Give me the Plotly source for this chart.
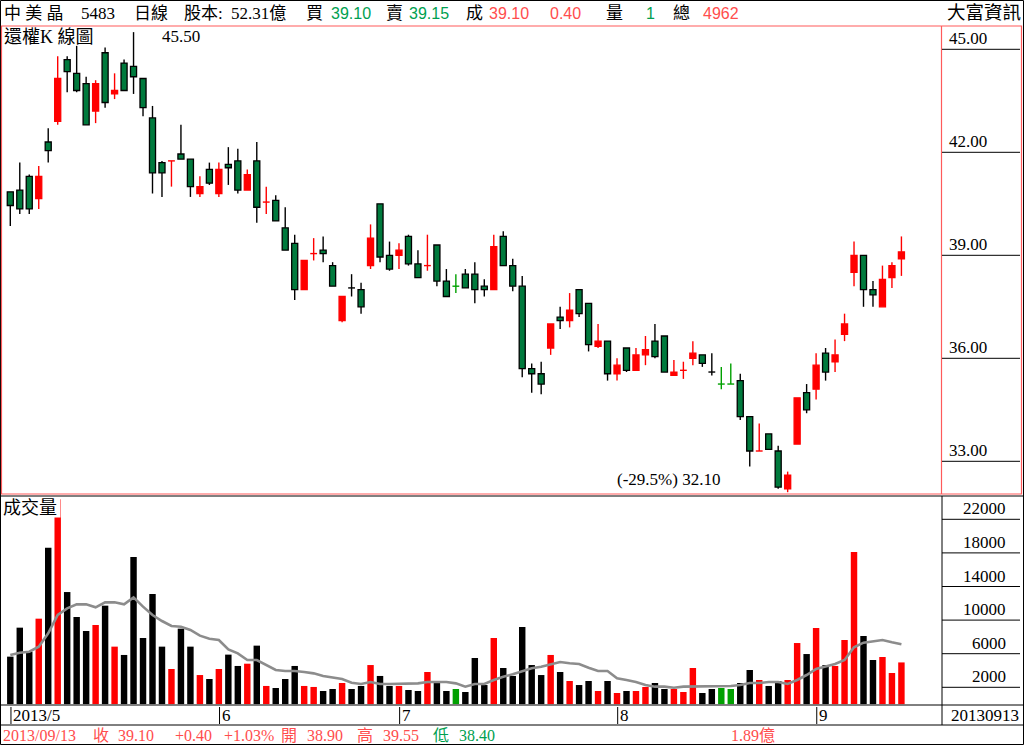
import plotly.graph_objects as go

W, H = 1024, 745

# ---------------- data ----------------
month_labels = ["2013/5", "6", "7", "8", "9"]
month_start_idx = [0, 22, 41, 64, 85]
last_date = "20130913"

open_ = [40.85, 40.90, 41.30, 40.65, 42.30, 42.90, 44.70, 44.30, 44.00, 43.20,
         44.90, 43.70, 44.60, 44.50, 44.15, 43.00, 41.70, 41.75, 41.95, 41.80,
         40.80, 41.50, 40.80, 41.65, 41.75, 40.90, 41.75, 40.55, 40.60, 39.80,
         39.35, 38.00, 39.05, 39.15, 38.70, 37.10, 38.05, 38.00, 38.70, 40.50,
         39.00, 39.00, 39.55, 38.75, 38.70, 39.30, 38.25, 38.10, 38.45, 38.45,
         38.10, 38.00, 39.55, 38.70, 38.10, 35.70, 35.55, 36.30, 37.20, 37.10,
         38.00, 37.60, 36.35, 36.50, 35.55, 36.30, 35.65, 36.10, 36.50, 36.65,
         35.50, 35.65, 36.00, 36.10, 35.60, 35.25, 35.25, 35.35, 34.30, 33.30,
         33.80, 33.30, 32.20, 33.50, 35.00, 35.10, 36.15, 35.90, 36.70, 38.50,
         39.00, 38.00, 37.50, 38.35, 38.90]
high = [40.85, 41.70, 41.35, 41.60, 42.70, 44.80, 44.80, 45.10, 44.20, 44.10,
        45.05, 44.30, 44.70, 45.50, 44.15, 43.35, 41.75, 41.75, 42.80, 41.80,
        41.30, 41.70, 41.70, 42.15, 42.10, 41.50, 42.30, 41.00, 40.75, 40.40,
        39.60, 38.85, 39.50, 39.55, 38.80, 37.80, 38.45, 38.20, 39.90, 40.50,
        39.40, 39.35, 39.60, 39.15, 39.60, 39.30, 38.60, 38.45, 38.60, 38.80,
        38.30, 39.60, 39.70, 38.90, 38.40, 35.85, 35.90, 37.00, 37.50, 37.90,
        38.00, 37.60, 37.00, 36.50, 36.00, 36.30, 36.30, 36.65, 37.00, 36.65,
        35.95, 35.90, 36.50, 36.10, 36.15, 35.75, 35.85, 35.55, 34.30, 34.10,
        33.80, 33.45, 32.70, 34.85, 35.25, 36.15, 36.30, 36.55, 37.30, 39.40,
        39.00, 38.25, 38.70, 38.80, 39.55]
low = [39.85, 40.20, 40.20, 40.35, 41.70, 42.80, 43.75, 43.75, 42.80, 42.85,
       43.30, 43.55, 43.80, 43.70, 43.05, 40.80, 40.70, 41.00, 41.80, 40.70,
       40.70, 41.05, 40.70, 41.05, 40.80, 40.90, 39.95, 40.20, 40.00, 39.15,
       37.70, 38.00, 38.85, 38.80, 38.10, 37.05, 37.80, 37.30, 38.60, 38.80,
       38.55, 38.60, 38.70, 38.35, 38.55, 38.10, 37.80, 37.90, 38.05, 37.60,
       37.80, 38.00, 38.70, 37.95, 35.45, 35.00, 34.95, 36.10, 36.85, 36.90,
       37.20, 36.20, 36.30, 35.35, 35.35, 35.60, 35.65, 35.80, 36.00, 35.60,
       35.50, 35.40, 35.80, 35.75, 35.50, 35.10, 35.25, 34.20, 32.85, 33.30,
       33.35, 32.20, 32.10, 33.50, 34.40, 34.80, 35.35, 35.60, 36.50, 38.10,
       37.50, 37.50, 37.50, 38.05, 38.40]
close = [40.45, 40.35, 40.35, 41.30, 42.05, 44.15, 44.35, 43.80, 42.80, 44.00,
         43.45, 43.80, 43.80, 44.20, 43.30, 41.40, 41.40, 41.75, 41.80, 41.00,
         41.00, 41.10, 41.50, 41.55, 40.90, 41.35, 40.40, 40.55, 40.00, 39.15,
         38.00, 38.85, 39.05, 39.05, 38.10, 37.80, 38.05, 37.50, 39.50, 38.95,
         38.60, 39.15, 38.75, 38.35, 38.70, 38.25, 37.80, 38.10, 38.05, 38.00,
         38.00, 39.25, 38.70, 38.10, 35.70, 35.55, 35.25, 37.00, 37.10, 37.40,
         37.30, 36.40, 36.50, 35.55, 35.80, 35.65, 36.10, 36.25, 36.05, 35.60,
         35.60, 35.65, 36.15, 35.85, 35.60, 35.25, 35.25, 34.30, 33.30, 33.30,
         33.35, 32.25, 32.60, 34.85, 34.50, 35.80, 35.60, 36.10, 37.00, 39.00,
         38.00, 37.85, 38.30, 38.70, 39.10]
volume = [5650, 9100, 6240, 10170, 18620, 24400, 13340, 10370, 8700, 9420,
          11720, 6840, 5850, 17510, 7870, 13110, 6840, 4180, 8980, 6840,
          3460, 2990, 4180, 5890, 4540, 4810, 6960, 2160, 1920, 2990,
          4540, 2160, 2040, 1560, 1800, 2510, 1800, 2160, 4650, 3350,
          2160, 2160, 1680, 1560, 3820, 2510, 1560, 1800, 1440, 5490,
          2270, 7870, 4300, 3350, 9180, 4650, 3460, 5850, 3820, 2750,
          2270, 2750, 1560, 2750, 1320, 1560, 1560, 2040, 2510, 1800,
          1800, 1440, 4300, 1320, 1800, 1920, 1800, 2510, 4060, 2870,
          2160, 2750, 2870, 7270, 5960, 9060, 4650, 4540, 7630, 18110,
          8110, 5250, 5610, 3700, 4962]
volume_ma10 = [5845, 6123, 6242, 6837, 8424, 10607, 11400, 11876, 11876, 11519,
               12114, 12114, 11876, 12710, 11599, 10607, 9892, 9297, 9218, 8821,
               8146, 7789, 7630, 6519, 6043, 5250, 5250, 4654, 4059, 3940,
               3940, 3821, 3662, 3345, 3147, 2988, 2551, 2393, 2631, 2393,
               2393, 2393, 2393, 2472, 2631, 2631, 2631, 2472, 2075, 2393,
               2393, 2869, 3266, 3543, 3940, 4258, 4456, 4773, 5012, 4853,
               4773, 4337, 3940, 3940, 3067, 2869, 2631, 2274, 2075, 2075,
               1956, 2075, 2075, 2075, 2075, 2155, 2155, 2274, 2512, 2512,
               2631, 2631, 2393, 2869, 3464, 4178, 4456, 4773, 5250, 6757,
               7313, 7511, 7630, 7353, 7115]
# colour of the doji (cross) candles: r = red, k = black, g = green
doji_tone = {17: "r", 27: "r", 32: "r", 36: "k", 44: "r", 47: "g",
             71: "r", 74: "k", 75: "g", 76: "g", 79: "r"}

price_ticks = [45.0, 42.0, 39.0, 36.0, 33.0]
vol_ticks = [22000, 18000, 14000, 10000, 6000, 2000]

stock_name = "中 美 晶"
stock_code = "5483"
hi_label = "45.50"
lo_label = "(-29.5%) 32.10"

n = len(close)
assert all(len(a) == n for a in (open_, high, low, volume, volume_ma10))

# ---------------- styling ----------------
RED = "#FF0000"
GBODY = "#007A3D"
GCROSS = "#00A000"
TRED = "#FF4D4D"
TGREEN = "#00A050"
BRED = "#FF5A5A"
SERIF = "Liberation Serif, Noto Sans CJK TC"
SANS = "Liberation Sans, Noto Sans CJK TC"
tone_color = {"r": RED, "k": "#000000", "g": GCROSS}


def px(x):
    return x / W


def py(y):
    return 1 - y / H


# pixel geometry of the panels
X0, X1 = 2, 941            # plotting columns
PT, PB = 26, 494           # price panel
VT, VB = 496, 705          # volume panel
first_x, step = 10.3, 9.48  # pixel centre of first candle, spacing
xr0 = -(first_x - X0) / step
xr1 = xr0 + (X1 - X0) / step
p_per_px = 3.0 / 103.0
pr0 = 45 - (PB - 49.3) * p_per_px
pr1 = 45 + (49.3 - PT) * p_per_px
v_per_px = 20000 / 168.0
vr0 = (704.1 - VB) * v_per_px
vr1 = (704.1 - VT) * v_per_px

fig = go.Figure()

# ---- candle bodies ----
for kind in ("up", "down"):
    xs, ys, bs = [], [], []
    for i in range(n):
        o, c = open_[i], close[i]
        if kind == "up" and c > o:
            xs.append(i); bs.append(o); ys.append(c - o)
        elif kind == "down" and c < o:
            xs.append(i); bs.append(c); ys.append(o - c)
    fig.add_trace(go.Bar(
        x=xs, y=ys, base=bs, width=0.64,
        marker=dict(color=RED if kind == "up" else GBODY,
                    line=dict(color=RED if kind == "up" else "#000000", width=1.3)),
        xaxis="x", yaxis="y", hoverinfo="skip"))

# ---- wicks and doji crosses ----
segs = {}
for i in range(n):
    o, h, l, c = open_[i], high[i], low[i], close[i]
    if c == o:
        col = tone_color[doji_tone.get(i, "k")]
        s = segs.setdefault(col, ([], []))
        s[0].extend([i, i, None, i - 0.36, i + 0.36, None])
        s[1].extend([h, l, None, o, o, None])
    else:
        col = RED if c > o else "#000000"
        s = segs.setdefault(col, ([], []))
        top, bot = max(o, c), min(o, c)
        if h > top:
            s[0].extend([i, i, None]); s[1].extend([top, h, None])
        if l < bot:
            s[0].extend([i, i, None]); s[1].extend([bot, l, None])
for col, (xs, ys) in segs.items():
    fig.add_trace(go.Scatter(x=xs, y=ys, mode="lines",
                             line=dict(color=col, width=1.4),
                             xaxis="x", yaxis="y", hoverinfo="skip"))

# ---- volume ----
vcols = []
for i in range(n):
    if close[i] > open_[i]:
        vcols.append(RED)
    elif close[i] < open_[i]:
        vcols.append("#000000")
    else:
        vcols.append(tone_color[doji_tone.get(i, "k")])
fig.add_trace(go.Bar(x=list(range(n)), y=volume, width=0.68,
                     marker=dict(color=vcols, line=dict(width=0)),
                     xaxis="x2", yaxis="y2", hoverinfo="skip"))
fig.add_trace(go.Scatter(x=list(range(n)), y=volume_ma10, mode="lines",
                         line=dict(color="#8C8C8C", width=2.6),
                         xaxis="x2", yaxis="y2", hoverinfo="skip"))

# ---------------- frame shapes ----------------
shapes = []


def line(x0, y0, x1, y1, color="#000000", width=1, xref="paper", yref="paper"):
    shapes.append(dict(type="line", x0=x0, y0=y0, x1=x1, y1=y1, xref=xref, yref=yref,
                       line=dict(color=color, width=width), layer="above"))


# outer frame
shapes.append(dict(type="rect", x0=px(0.5), y0=py(0.5), x1=px(1023.5), y1=py(744.5),
                   xref="paper", yref="paper", line=dict(color="#000000", width=1)))
# price panel (red)
shapes.append(dict(type="rect", x0=px(1.5), y0=py(PT), x1=px(1021.5), y1=py(PB),
                   xref="paper", yref="paper", line=dict(color=BRED, width=1.2)))
line(px(941.5), py(PT), px(941.5), py(PB), BRED, 1.2)
# volume panel & rows
line(px(0), py(VT), px(1024), py(VT))
line(px(942), py(VT), px(942), py(725))
line(px(0), py(VB), px(1024), py(VB))
line(px(0), py(725), px(1024), py(725))
# price axis tick lines
for t in price_ticks:
    line(px(942), t, px(1020), t, xref="paper", yref="y")
# volume axis tick lines
for t in vol_ticks:
    line(px(942), t, px(1020), t, xref="paper", yref="y2")
# month markers
for m in month_start_idx:
    line(m + 0.07, py(707), m + 0.07, py(724), xref="x2", yref="paper")

# ---------------- texts ----------------
ann = []


def text(t, x, y, color="#000000", size=17, family=SERIF, anchor="left",
         xref="paper", yref="paper", yanchor="middle", bg=None, xshift=0, **kw):
    d = dict(text=t, x=x, y=y, xref=xref, yref=yref, xanchor=anchor, yanchor=yanchor,
             showarrow=False, font=dict(color=color, size=size, family=family),
             borderpad=0, xshift=xshift, **kw)
    if bg:
        d["bgcolor"] = bg
    ann.append(d)


HY = 13
header = [
    (stock_name, 3, "#000000", SERIF),
    (stock_code, 80, "#000000", SERIF),
    ("日線", 133, "#000000", SERIF),
    ("股本:", 183, "#000000", SERIF),
    ("52.31億", 230, "#000000", SERIF),
    ("買", 305, "#000000", SERIF),
    ("39.10", 330, TGREEN, SANS),
    ("賣", 385, "#000000", SERIF),
    ("39.15", 408, TGREEN, SANS),
    ("成", 465, "#000000", SERIF),
    ("39.10", 488, TRED, SANS),
    ("0.40", 549, TRED, SANS),
    ("量", 605, "#000000", SERIF),
    ("1", 645, TGREEN, SANS),
    ("總", 672, "#000000", SERIF),
    ("4962", 702, TRED, SANS),
]
for t, x, c, f in header:
    text(t, px(x), py(HY), c, 16 if f == SANS else 17, f)
text("大富資訊", px(1022), py(HY), "#000000", 18.5, SERIF, anchor="right")

text("還權K 線圖", px(3), py(37), size=18)
text(hi_label, px(161), py(37))
text(lo_label, px(721), py(479), anchor="right")
text("成交量", px(2), py(497), size=18, bg="#FFFFFF", yanchor="top",
     width=57, height=19, align="left", valign="middle")

for t in price_ticks:
    text(f"{t:.2f}", px(948), t, yref="y", yanchor="bottom")
for t in vol_ticks:
    text(f"{t}", px(1007), t, yref="y2", yanchor="bottom", anchor="right")

for m, lab in zip(month_start_idx, month_labels):
    text(lab, m, py(715), xref="x2", xshift=2)
text(last_date, px(1020), py(715), anchor="right")

BY = 735
bottom = [
    ("2013/09/13", 2, TRED), ("收", 92, TRED), ("39.10", 117, TRED),
    ("+0.40", 174, TRED), ("+1.03%", 223, TRED), ("開", 280, TRED),
    ("38.90", 306, TRED), ("高", 356, TRED), ("39.55", 382, TRED),
    ("低", 432, TGREEN), ("38.40", 458, TGREEN), ("1.89億", 730, TRED),
]
for t, x, c in bottom:
    text(t, px(x), py(BY), c, 16)

fig.update_layout(
    width=W, height=H, margin=dict(l=0, r=0, t=0, b=0),
    paper_bgcolor="#FFFFFF", plot_bgcolor="#FFFFFF",
    showlegend=False, barmode="overlay",
    xaxis=dict(domain=[px(X0), px(X1)], range=[xr0, xr1], visible=False, fixedrange=True),
    yaxis=dict(domain=[py(PB), py(PT)], range=[pr0, pr1], visible=False, fixedrange=True),
    xaxis2=dict(domain=[px(X0), px(X1)], range=[xr0, xr1], visible=False, anchor="y2",
                fixedrange=True),
    yaxis2=dict(domain=[py(VB), py(VT)], range=[vr0, vr1], visible=False, anchor="x2",
                fixedrange=True),
    shapes=shapes, annotations=ann,
)

fig.write_html(
    "out.html",
    config={"displayModeBar": False},
    post_script="document.body.style.margin='0';document.body.style.overflow='hidden';",
)
